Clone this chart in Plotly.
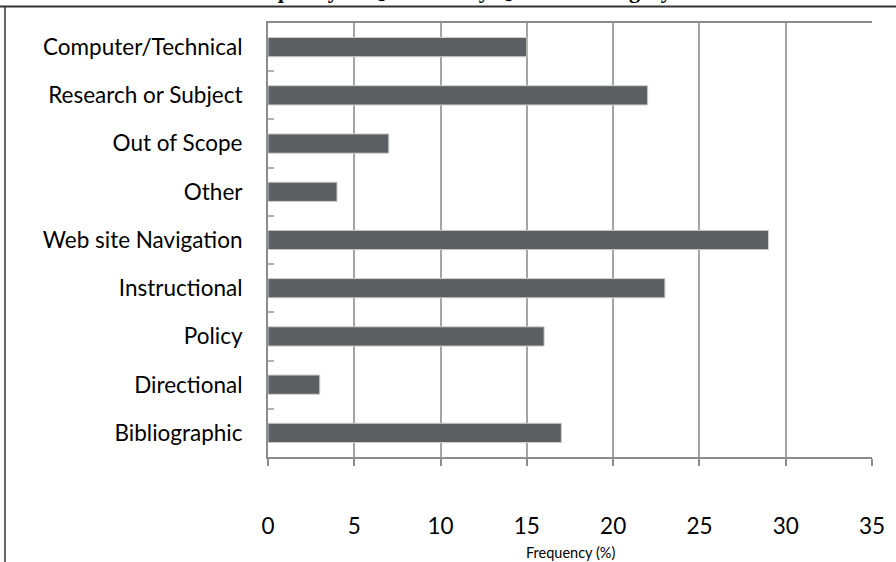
import plotly.graph_objects as go

categories = ["Computer/Technical", "Research or Subject", "Out of Scope", "Other",
              "Web site Navigation", "Instructional", "Policy", "Directional", "Bibliographic"]
values = [15, 22, 7, 4, 29, 23, 16, 3, 17]
x_ticks = [0, 5, 10, 15, 20, 25, 30, 35]
title_text = "Frequency of Questions by Question Category"
x_title = "Frequency (%)"

grid = "#a4a4a6"
axis = "#8c8c8e"
font = "Lato"

L, R, T, B = 268, 24, 23, 105
W, H = 896, 562
PW, PH = W - L - R, H - T - B

fig = go.Figure(go.Bar(
    y=categories, x=values, orientation="h",
    marker=dict(color="#5e5f62", line=dict(color="#cfcfcf", width=1)),
    width=0.4,
))

fig.update_layout(
    width=W, height=H,
    margin=dict(l=L, r=R, t=T, b=B),
    paper_bgcolor="white", plot_bgcolor="white",
    showlegend=False,
    font=dict(family=font, color="black"),
    xaxis=dict(
        range=[0, 35], tickvals=x_ticks, ticktext=[str(v) for v in x_ticks],
        showgrid=True, gridcolor=grid, gridwidth=2,
        showline=True, linecolor=axis, linewidth=2, mirror=True,
        ticks="outside", ticklen=7, tickwidth=2, tickcolor=axis,
        tickfont=dict(family=font, size=22.5, color="black"),
        ticklabelstandoff=41, zeroline=False, fixedrange=True,
    ),
    yaxis=dict(
        autorange="reversed",
        showgrid=False,
        showline=True, linecolor=axis, linewidth=2, mirror=False,
        ticks="inside", tickson="boundaries", ticklen=6, tickwidth=2, tickcolor="#b0b0b0",
        tickfont=dict(family=font, size=22.5, color="black"),
        ticklabelstandoff=19, fixedrange=True,
    ),
    shapes=[
        dict(type="line", xref="paper", yref="paper", x0=-L / PW, x1=(W - L) / PW,
             y0=1 + 16.5 / PH, y1=1 + 16.5 / PH, line=dict(color="#333333", width=2)),
        dict(type="line", xref="paper", yref="paper", x0=(5 - L) / PW, x1=(5 - L) / PW,
             y0=1 + 17 / PH, y1=-B / PH, line=dict(color="#333333", width=1.5)),
    ],
    annotations=[
        dict(text=x_title, xref="paper", yref="paper", x=0.5, y=-95 / PH,
             xanchor="center", yanchor="middle", showarrow=False,
             font=dict(family=font, size=14.5, color="black")),
        dict(text="<b>" + title_text + "</b>", xref="paper", yref="paper",
             x=(455 - L) / PW, y=1 + 18 / PH, xanchor="center", yanchor="bottom",
             showarrow=False, font=dict(family="Liberation Serif", size=22, color="black")),
    ],
)

fig.write_html("out.html", config={"displayModeBar": False},
               post_script="document.body.style.margin='0';")
